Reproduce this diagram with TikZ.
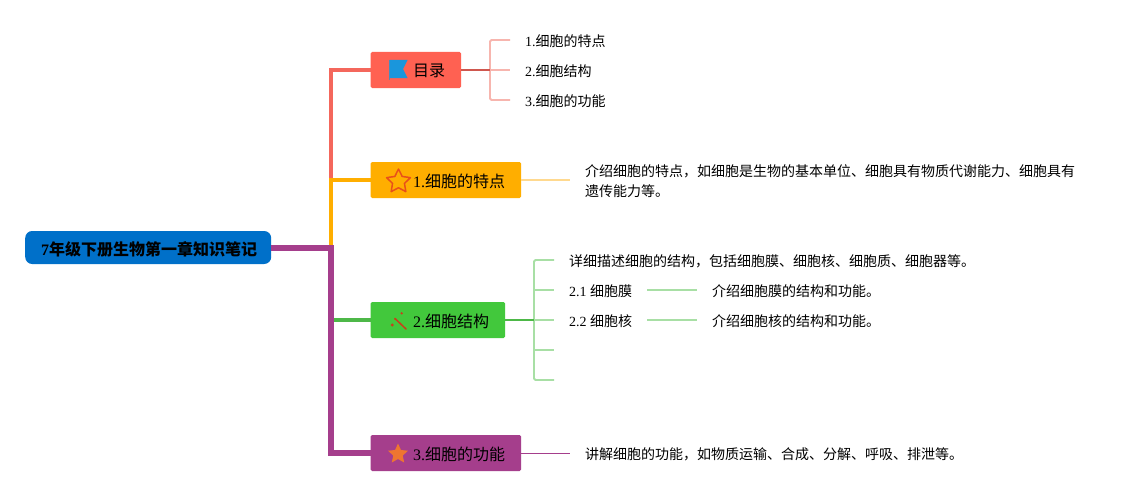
\documentclass[tikz,border=0pt]{standalone}
\usepackage{fontspec}
\setmainfont{Liberation Serif}
\newfontfamily\cjk{Noto Sans CJK SC}
\newcommand\zh[1]{{\cjk #1}}
\usetikzlibrary{shapes.geometric}
\definecolor{rootblue}{HTML}{0070C9}
\definecolor{cred}{HTML}{FF6152}
\definecolor{cline}{HTML}{F4675C}
\definecolor{corange}{HTML}{FFAE00}
\definecolor{cgreen}{HTML}{42C83C}
\definecolor{cgreenl}{HTML}{4DB848}
\definecolor{cpurple}{HTML}{A53E8C}
\definecolor{pred}{HTML}{F7B5AE}
\definecolor{porange}{HTML}{FFD98F}
\definecolor{pgreen}{HTML}{A8DFA5}
\definecolor{flagblue}{HTML}{1A96DC}
\definecolor{flagpole}{HTML}{5A8AB0}
\definecolor{iconred}{HTML}{C8401A}
\definecolor{staroutline}{HTML}{E8501A}
\definecolor{starfill}{HTML}{EE7530}
\tikzset{
  x=1pt,y=-1pt,
  rootbox/.style={draw=none,fill=rootblue,rounded corners=7pt,minimum width=246pt,minimum height=33pt,inner sep=0pt,anchor=west},
  topic/.style={draw=none,rounded corners=1.5pt,minimum height=36pt,inner sep=0pt,anchor=west},
  topictext/.style={inner sep=0pt,anchor=west,font=\fontsize{16}{20}\selectfont,text=black},
  leaf/.style={inner sep=0pt,anchor=west,align=left,font=\fontsize{14}{20}\selectfont,text=black},
  trunk/.style={line width=4pt,line join=miter},
  bracket/.style={line width=1.9pt,rounded corners=1.5pt},
  stem/.style={line width=2pt},
}
\begin{document}
\begin{tikzpicture}
\useasboundingbox (0,0) rectangle (1145,495);
\fill[white] (0,0) rectangle (1145,495);

% nodes
\node[rootbox] (root) at (25,247.5) {};
\node[topic,fill=cred,minimum width=90.5pt] (n0) at (370.5,70) {};
\node[topic,fill=corange,minimum width=150.5pt] (n1) at (370.5,180) {};
\node[topic,fill=cgreen,minimum width=134.5pt] (n2) at (370.5,320) {};
\node[topic,fill=cpurple,minimum width=150.5pt] (n3) at (370.5,453) {};

% trunk
\coordinate (tk) at (331,247.5);
\draw[trunk,cline] (n0.west) -| (tk);
\draw[trunk,corange] (n1.west) -| (tk);
\draw[trunk,cgreenl] (n2.west) -- (tk |- n2.west);
\draw[line width=6pt,cpurple] (root.east) -- (tk) |- (n3.west);

% root label
\node[inner sep=0pt,font=\fontsize{16}{20}\selectfont\bfseries,text=black] (roott) at (149,249) {7\zh{年级下册生物第一章知识笔记}};

% topic labels
\node[topictext] (t0) at (413,71) {\zh{目录}};
\node[topictext] (t1) at (413,181) {1.\zh{细胞的特点}};
\node[topictext] (t2) at (413,321) {2.\zh{细胞结构}};
\node[topictext] (t3) at (413,454) {3.\zh{细胞的功能}};

% icons
\fill[flagpole] (388.5,60) rectangle (389.8,80);
\fill[flagblue] (389.5,60) -- (407.5,60) -- (403,69) -- (407.5,78) -- (389.5,78) -- cycle;
\node[star,star points=5,star point ratio=2,draw=staroutline,line width=1.5pt,line join=round,fill=corange,minimum size=25pt,inner sep=0pt] (s1) at (398.5,181.5) {};
\node[star,star points=5,star point ratio=2.1,draw=none,fill=starfill,minimum size=21pt,inner sep=0pt] (s3) at (398,454) {};
\draw[line width=1.5pt,iconred,line cap=round] (395,318.5) -- (406,329);
\fill[iconred] (401.7,313.3) circle (1.3pt) (392.3,325) circle (1.6pt) (395,319) circle (1pt);

% leaves of 目录
\node[leaf] (a1) at (525,41) {1.\zh{细胞的特点}};
\node[leaf] (a2) at (525,71) {2.\zh{细胞结构}};
\node[leaf] (a3) at (525,101) {3.\zh{细胞的功能}};
\coordinate (a1e) at (510,40);
\coordinate (a2e) at (510,70);
\coordinate (a3e) at (510,100);
\coordinate (aj) at (490,70);
\draw[bracket,pred] (a1e) -| (aj) |- (a3e);
\draw[bracket,pred] (aj) -- (a2e);
\draw[stem,cline!85!black] (n0.east) -- (aj);

% 1
\coordinate (b1e) at (570,180);
\draw[stem,porange] (n1.east) -- (b1e);
\node[leaf] (b1) at (585,181) {\zh{介绍细胞的特点，如细胞是生物的基本单位、细胞具有物质代谢能力、细胞具有}\\\zh{遗传能力等。}};

% 2
\node[leaf] (c1) at (569,261) {\zh{详细描述细胞的结构，包括细胞膜、细胞核、细胞质、细胞器等。}};
\node[leaf] (c2) at (569,291) {2.1 \zh{细胞膜}};
\node[leaf] (c3) at (569,321) {2.2 \zh{细胞核}};
\node[leaf] (c2d) at (712,291) {\zh{介绍细胞膜的结构和功能。}};
\node[leaf] (c3d) at (712,321) {\zh{介绍细胞核的结构和功能。}};
\coordinate (ce1) at (554,260);
\coordinate (ce2) at (554,290);
\coordinate (ce3) at (554,320);
\coordinate (ce4) at (554,350);
\coordinate (ce5) at (554,380);
\coordinate (cj) at (534,320);
\draw[bracket,pgreen] (ce1) -| (cj) |- (ce5);
\draw[bracket,pgreen] (cj |- ce2) -- (ce2);
\draw[bracket,pgreen] (cj) -- (ce3);
\draw[bracket,pgreen] (cj |- ce4) -- (ce4);
\draw[stem,cgreenl] (n2.east) -- (cj);
\coordinate (c2s) at (647,290);
\coordinate (c2t) at (697,290);
\coordinate (c3s) at (647,320);
\coordinate (c3t) at (697,320);
\draw[bracket,pgreen] (c2s) -- (c2t);
\draw[bracket,pgreen] (c3s) -- (c3t);

% 3
\coordinate (d1e) at (570,453);
\draw[line width=0.9pt,cpurple] (n3.east) -- (d1e);
\node[leaf] (d1) at (585,454) {\zh{讲解细胞的功能，如物质运输、合成、分解、呼吸、排泄等。}};
\end{tikzpicture}
\end{document}
